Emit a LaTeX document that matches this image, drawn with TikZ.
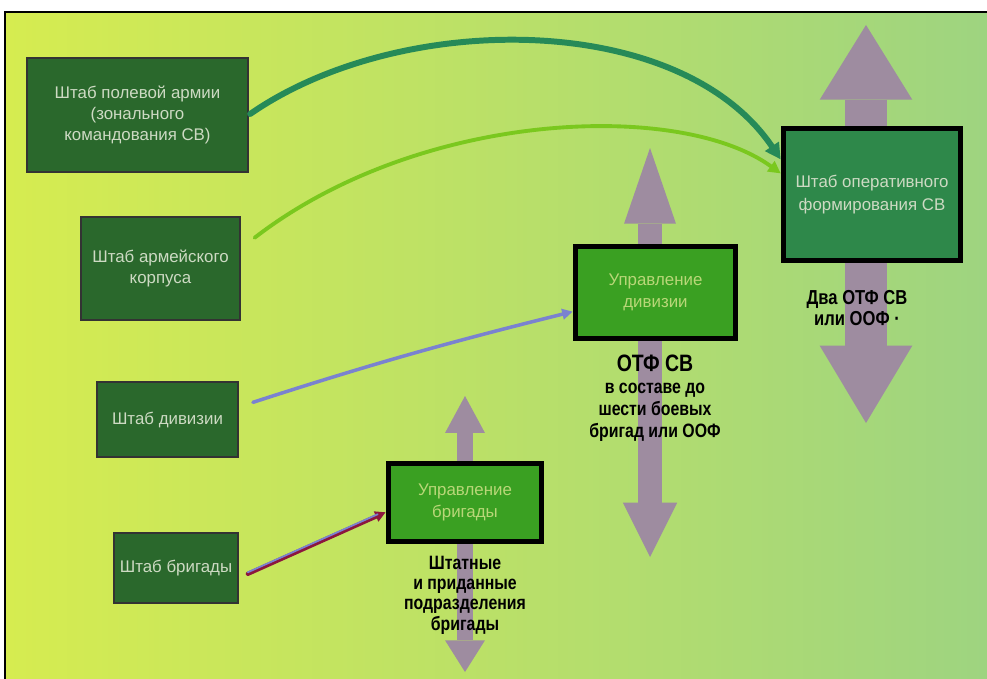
\documentclass[tikz,border=0pt]{standalone}
\usepackage{fontspec}
\setmainfont{Liberation Sans}
\newfontfamily\narrowfont{Liberation Sans}[FakeStretch=0.82]
\usetikzlibrary{arrows.meta,calc}

\definecolor{bgyellow}{RGB}{214,236,80}
\definecolor{bgmid}{RGB}{196,230,96}
\definecolor{bggreen}{RGB}{158,212,128}
\definecolor{hqgreen}{RGB}{42,104,44}
\definecolor{opgreen}{RGB}{46,136,74}
\definecolor{ctrlgreen}{RGB}{58,160,34}
\definecolor{boxtext}{RGB}{205,218,195}
\definecolor{fadetext}{RGB}{185,215,120}
\definecolor{mauve}{RGB}{158,140,160}
\definecolor{tealline}{RGB}{38,138,88}
\definecolor{limeline}{RGB}{122,200,30}
\definecolor{blueline}{RGB}{122,130,208}
\definecolor{redline}{RGB}{140,22,62}

\tikzset{
	hq/.style={rectangle,fill=hqgreen,draw=black!80,line width=0.8pt,text=boxtext,align=center,font=\fontsize{9.6}{12}\selectfont},
	ctrl/.style={rectangle,fill=ctrlgreen,draw=black,line width=3.2pt,text=fadetext,align=center,font=\fontsize{9.6}{12.5}\selectfont},
	caption/.style={align=center,text=black,font=\narrowfont\bfseries\fontsize{11}{11.6}\selectfont},
	scalearrow/.style={draw=mauve},
	link/.style={line cap=round}
}

\begin{document}
\begin{tikzpicture}[x=0.02cm,y=-0.02cm]
		\useasboundingbox (0,0) rectangle (987,679);
		\fill[white] (0,0) rectangle (987,679);
		%%%background
		\shade[left color=bgyellow,middle color=bgmid,right color=bggreen] (5,12) rectangle (987,679);
		\draw[line width=1.2pt] (5,679) -- (5,12) -- (987,12);
		
		%%%double arrows
		\coordinate (brtop) at (465,396);
		\coordinate (brbot) at (465,672);
		\coordinate (divtop) at (650,148);
		\coordinate (divbot) at (650,557);
		\coordinate (optop) at (866,25);
		\coordinate (opbot) at (866,423);
		\draw[scalearrow,line width=9.6pt,{Triangle[length=21pt,width=22.7pt,line width=0pt]}-{Triangle[length=18pt,width=22.7pt,line width=0pt]}] (brtop) -- (brbot);
		\draw[scalearrow,line width=14.2pt,{Triangle[length=43pt,width=29.5pt,line width=0pt]}-{Triangle[length=31pt,width=31pt,line width=0pt]}] (divtop) -- (divbot);
		\draw[scalearrow,line width=23.8pt,{Triangle[length=42.5pt,width=52.7pt,line width=0pt]}-{Triangle[length=44pt,width=52.7pt,line width=0pt]}] (optop) -- (opbot);
		
		%%%boxes
		\node[hq,minimum width=4.42cm,minimum height=2.28cm] (fieldhq) at (137.5,115) {Штаб полевой армии\\(зонального\\командования СВ)};
		\node[hq,minimum width=3.18cm,minimum height=2.06cm] (corpshq) at (160.5,268.5) {Штаб армейского\\корпуса};
		\node[hq,minimum width=2.82cm,minimum height=1.5cm] (divhq) at (167.5,419.5) {Штаб дивизии};
		\node[hq,minimum width=2.48cm,minimum height=1.4cm] (brighq) at (176,568) {Штаб бригады};
		\node[ctrl,minimum width=3.06cm,minimum height=1.56cm] (brigctrl) at (465,502.5) {Управление\\бригады};
		\node[ctrl,minimum width=3.2cm,minimum height=1.84cm] (divctrl) at (655.5,292.5) {Управление\\дивизии};
		\node[ctrl,fill=opgreen,text=boxtext,minimum width=3.54cm,minimum height=2.64cm,font=\fontsize{9.6}{13}\selectfont] (ophq) at (872,194.5) {Штаб оперативного\\формирования СВ};
		
		%%%captions
		\node[caption] (brigunits) at (465,595) {Штатные\\и приданные\\подразделения\\бригады};
		\node[caption,font=\narrowfont\bfseries\fontsize{11}{12.6}\selectfont] (divunits) at (655,398) {{\fontsize{13.5}{14}\selectfont ОТФ СВ}\\в составе до\\шести боевых\\бригад или ООФ};
		\node[caption,font=\narrowfont\bfseries\fontsize{11.5}{12}\selectfont] (optwo) at (857,308) {Два ОТФ СВ\\или ООФ ·};
		
		%%%links
		\draw[link,tealline,line width=3.4pt,-{Triangle[length=9pt,width=9pt]},shorten <=1pt] (fieldhq.east) .. controls (400,10) and (680,10) .. (ophq.159);
		\draw[link,limeline,line width=2.2pt,-{Triangle[length=7pt,width=7pt]},shorten <=10pt] (corpshq.14) .. controls (420,110) and (680,100) .. (ophq.167);
		\draw[link,blueline,line width=2pt,-{Triangle[length=6pt,width=6pt]},shorten <=8.5pt] (divhq.10) to[bend left=2] (divctrl.193);
		\draw[link,redline,line width=2.4pt,-{Triangle[length=6pt,width=6pt]},shorten <=5.7pt] (brighq.351) -- (brigctrl.187);
		\draw[link,blueline,line width=1pt,transform canvas={yshift=0.9pt},shorten <=5.7pt,shorten >=5pt] (brighq.351) -- (brigctrl.187);
	\end{tikzpicture}
\end{document}
